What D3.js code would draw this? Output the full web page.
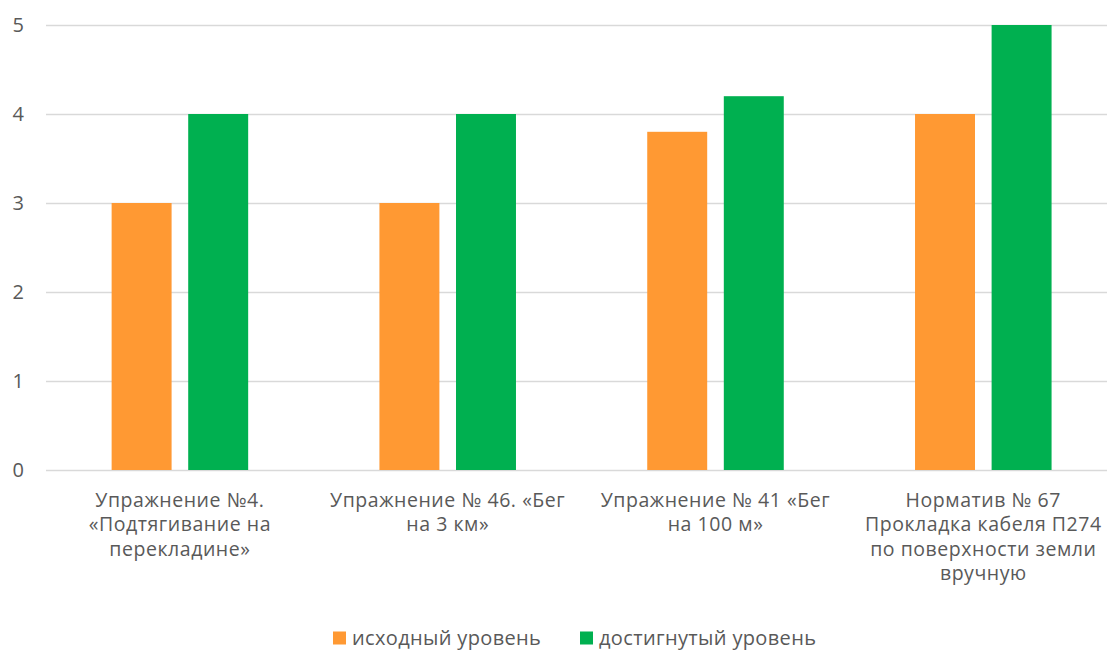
<!DOCTYPE html>
<html>
<head>
<meta charset="utf-8">
<script src="https://cdn.jsdelivr.net/npm/d3@7"></script>
<style>
	body { margin: 0; background: #fff; }
	svg text { font-family: "Open Sans", "Noto Sans", sans-serif; fill: #595959; }
</style>
</head>
<body>
<div id="chartDiv"></div>
<script>
;(function() {

	var width = 1107;
	var height = 653;
	var margin = { top: 25, left: 46, bottom: 183 };

	// category labels, already split the way the original wraps them
	var categories = [
		["Упражнение №4.", "«Подтягивание на", "перекладине»"],
		["Упражнение № 46. «Бег", "на 3 км»"],
		["Упражнение № 41 «Бег", "на 100 м»"],
		["Норматив № 67", "Прокладка кабеля П274", "по поверхности земли", "вручную"]
	];
	var seriesNames = ["исходный уровень", "достигнутый уровень"];
	var initialLevel = [3, 3, 3.8, 4];
	var achievedLevel = [4, 4, 4.2, 5];
	var yTicks = [0, 1, 2, 3, 4, 5];
	var colors = ["#FF9933", "#00B050"];

	var bandWidth = 267.8;
	var chartHeight = height - margin.top - margin.bottom;

	var svg = d3.select("#chartDiv").append("svg")
		.attr("width", width)
		.attr("height", height);

	var xScale = d3.scaleBand()
		.domain(d3.range(categories.length))
		.range([margin.left, margin.left + bandWidth * categories.length])
		.paddingInner(0)
		.paddingOuter(0);

	var seriesScale = d3.scaleBand()
		.domain(d3.range(seriesNames.length))
		.range([0, xScale.bandwidth()])
		.paddingInner(0.217)
		.paddingOuter(0.857);

	var yScale = d3.scaleLinear()
		.domain([0, 5])
		.range([margin.top + chartHeight, margin.top]);

	// gridlines
	svg.append("g").selectAll("line")
		.data(yTicks)
		.enter().append("line")
		.attr("x1", margin.left)
		.attr("x2", width)
		.attr("y1", d => Math.round(yScale(d)) + 0.5)
		.attr("y2", d => Math.round(yScale(d)) + 0.5)
		.attr("stroke", "#D9D9D9")
		.attr("stroke-width", 1.3);

	// y tick labels
	svg.append("g").selectAll("text")
		.data(yTicks)
		.enter().append("text")
		.attr("x", 24)
		.attr("y", d => yScale(d))
		.attr("dy", "0.35em")
		.attr("text-anchor", "end")
		.style("font-size", "20px")
		.text(d => d);

	// bars
	var series = [initialLevel, achievedLevel];
	series.forEach(function(values, s) {
		svg.append("g").selectAll("rect")
			.data(values)
			.enter().append("rect")
			.attr("x", (d, i) => xScale(i) + seriesScale(s))
			.attr("width", seriesScale.bandwidth())
			.attr("y", d => yScale(d))
			.attr("height", d => yScale(0) - yScale(d))
			.attr("fill", colors[s]);
	});

	// category labels
	var catLabels = svg.append("g").selectAll("text")
		.data(categories)
		.enter().append("text")
		.attr("text-anchor", "middle")
		.style("font-size", "19.5px")
		.style("letter-spacing", "0.55px")
		.attr("transform", (d, i) => "translate(" + (xScale(i) + xScale.bandwidth() / 2) + ",0)");

	catLabels.selectAll("tspan")
		.data(d => d)
		.enter().append("tspan")
		.attr("x", 0)
		.attr("y", (d, j) => 507 + j * 24.3)
		.text(d => d);

	// legend
	var legendItems = [
		{ name: seriesNames[0], color: colors[0], x: 333 },
		{ name: seriesNames[1], color: colors[1], x: 580 }
	];
	var legend = svg.append("g").selectAll("g")
		.data(legendItems)
		.enter().append("g")
		.attr("transform", d => "translate(" + d.x + ",638)");

	legend.append("rect")
		.attr("x", 0)
		.attr("y", -6.5)
		.attr("width", 13)
		.attr("height", 13)
		.attr("fill", d => d.color);

	legend.append("text")
		.attr("x", 19)
		.attr("y", 0)
		.attr("dy", "0.35em")
		.style("font-size", "20px")
		.style("letter-spacing", "0.35px")
		.text(d => d.name);

})();
</script>
</body>
</html>
